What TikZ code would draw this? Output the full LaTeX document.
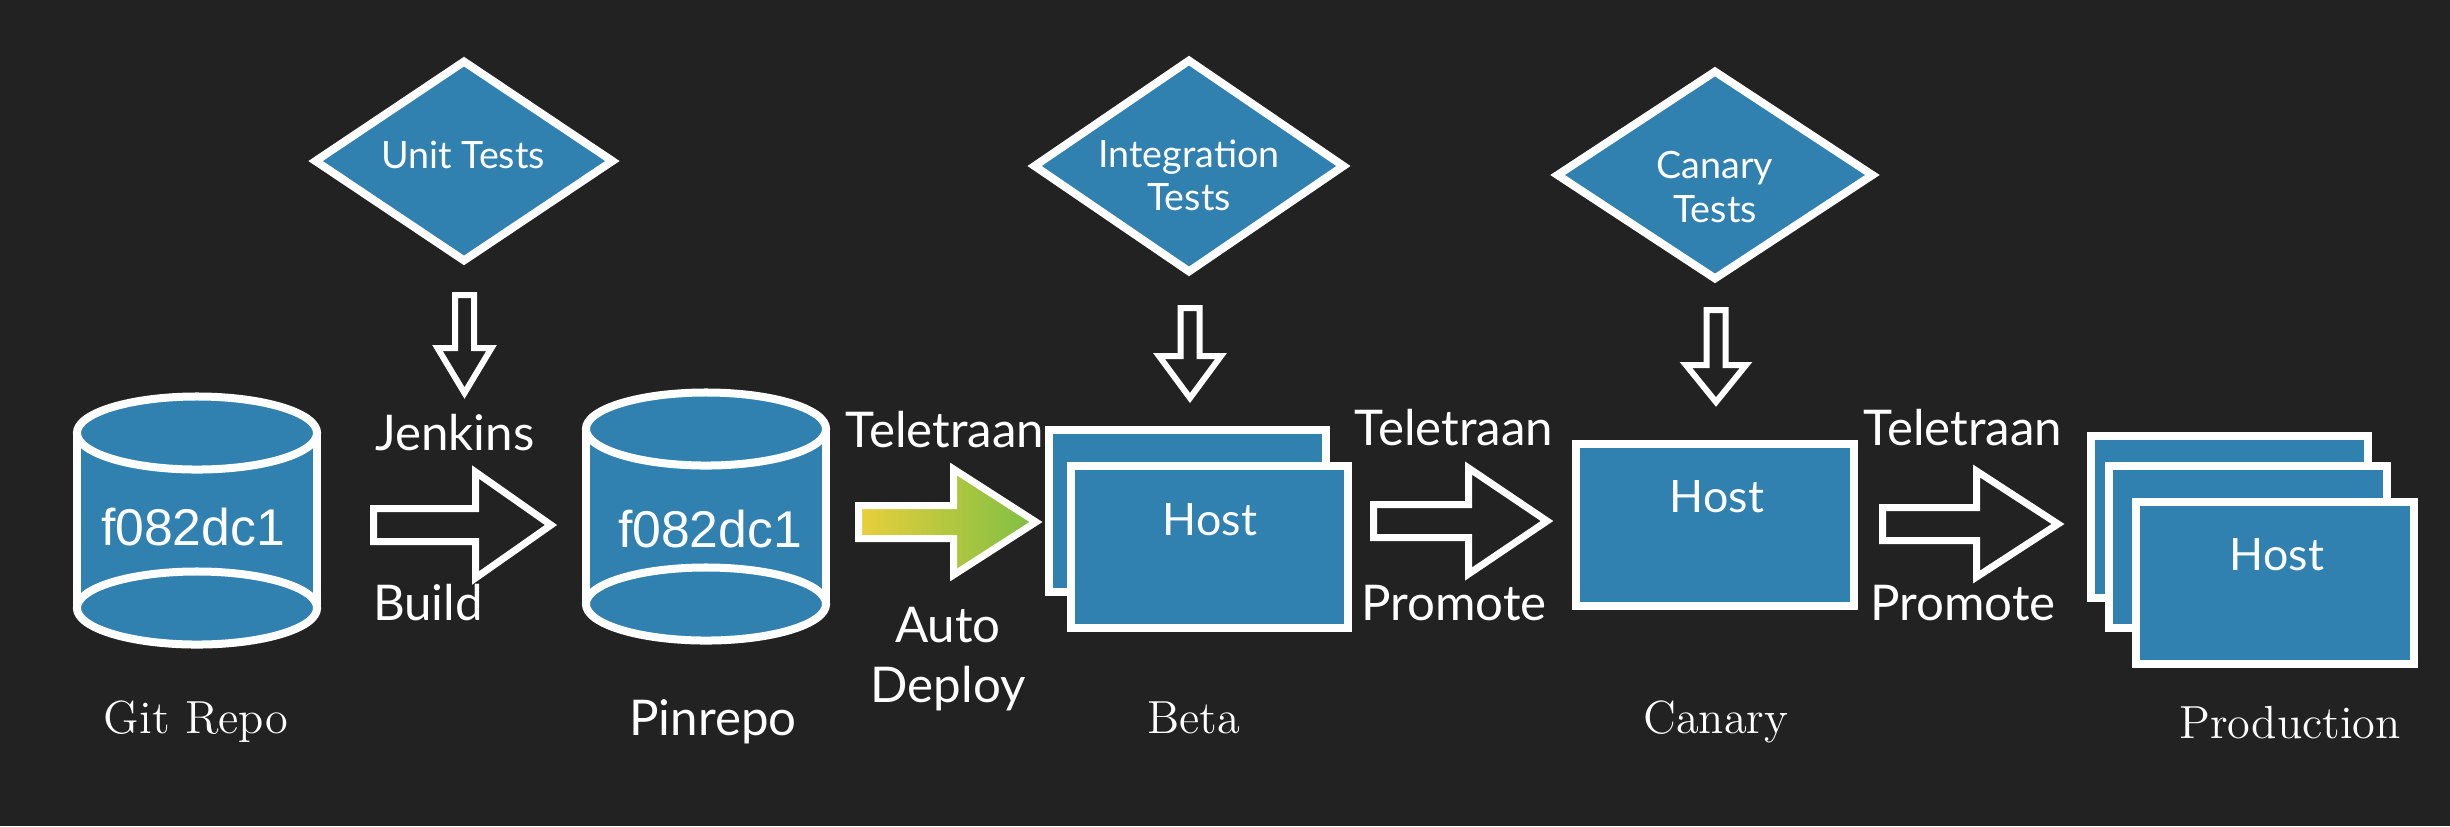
\documentclass[tikz,border=0pt]{standalone}
\usepackage{fontspec}
\newfontfamily\gill{Lato}
\newfontfamily\arial{Liberation Sans}
\usetikzlibrary{shapes.geometric,calc}
\definecolor{bgc}{HTML}{222222}
\definecolor{boxblue}{RGB}{48,128,176}
\definecolor{gy}{HTML}{E9CF3C}
\definecolor{gg}{HTML}{7DBF43}
\tikzset{
  every node/.style={text=white, inner sep=0pt},
  lbl/.style={font=\gill\fontsize{14}{17}\selectfont, anchor=base},
  stage/.style={font=\fontsize{13.2}{15}\selectfont, anchor=base},
  hosttxt/.style={font=\gill\fontsize{12.7}{15}\selectfont, anchor=base},
  testtxt/.style={font=\gill\fontsize{10.7}{12.5}\selectfont, anchor=base},
  hashtxt/.style={font=\arial\fontsize{14.7}{17}\selectfont, anchor=base},
  hostbox/.style={rectangle, draw=white, fill=boxblue, line width=0.08cm,
    minimum width=2.77cm, minimum height=1.62cm},
  testbox/.style={diamond, draw=white, fill=boxblue, line width=0.08cm},
  blk/.style={draw=white, line width=0.07cm, fill=bgc, line join=miter},
  gblk/.style={draw=white, line width=0.07cm, left color=gy, right color=gg, line join=miter},
  dblk/.style={draw=white, line width=0.06cm, fill=bgc, line join=miter},
  cylline/.style={draw=white, line width=0.08cm},
}
% block arrow: style, x left, x head base, x tip, y centre
\newcommand\blkarrow[5][blk]{%
  \draw[#1] (#2,#5-16.5) -- (#3,#5-16.5) -- (#3,#5-53) -- (#4,#5)
    -- (#3,#5+53) -- (#3,#5+16.5) -- (#2,#5+16.5) -- cycle;}
% down arrow: x centre, y top, y head, y tip, shaft half, head half
\newcommand\dnarrow[6]{%
  \draw[dblk] (#1-#5,#2) -- (#1+#5,#2) -- (#1+#5,#3) -- (#1+#6,#3)
    -- (#1,#4) -- (#1-#6,#3) -- (#1-#5,#3) -- cycle;}
% cylinder: x centre, y top, y bottom
\newcommand\cylshape[3]{%
  \fill[boxblue] (#1-120,#2) rectangle (#1+120,#3);
  \fill[boxblue] (#1,#2) ellipse [x radius=1.2cm, y radius=0.365cm];
  \fill[boxblue] (#1,#3) ellipse [x radius=1.2cm, y radius=0.365cm];
  \draw[cylline] (#1-120,#2) -- (#1-120,#3) (#1+120,#2) -- (#1+120,#3);
  \draw[cylline] (#1,#2) ellipse [x radius=1.2cm, y radius=0.365cm];
  \draw[cylline] (#1,#3) ellipse [x radius=1.2cm, y radius=0.365cm];}
\begin{document}
\begin{tikzpicture}[x=0.01cm, y=-0.01cm]
\fill[bgc] (0,0) rectangle (2450,826);
\useasboundingbox (0,0) rectangle (2450,826);

% test diamonds
\node[testbox, minimum width=3.0cm, minimum height=2.02cm] (unit) at (464,161) {};
\node[testtxt] (unitt) at (463,168) {Unit Tests};
\node[testbox, minimum width=3.12cm, minimum height=2.14cm] (integ) at (1189,166) {};
\node[testtxt] (integt1) at (1189,167) {Integration};
\node[testtxt] (integt2) at (1189,210) {Tests};
\node[testbox, minimum width=3.18cm, minimum height=2.10cm] (cant) at (1715,175) {};
\node[testtxt] (cant1) at (1715,178) {Canary};
\node[testtxt] (cant2) at (1715,222) {Tests};

% down arrows
\dnarrow{464.5}{295}{348}{393}{9.5}{27}
\dnarrow{1190}{308}{356}{398}{9.5}{31}
\dnarrow{1716}{310}{365}{402}{9.5}{30}

% repositories
\cylshape{197}{433}{608}
\node[hashtxt] (githash) at (193,545) {f082dc1};
\cylshape{706}{429}{604}
\node[hashtxt] (pinhash) at (710,547) {f082dc1};

% hosts
\node[hostbox] (bback) at (1187.5,511) {};
\node[hostbox] (bfront) at (1209.5,547) {};
\node[hosttxt] (bhost) at (1210,535) {Host};
\node[hostbox] (can) at (1715,525) {};
\node[hosttxt] (chost) at (1717,512) {Host};
\node[hostbox] (pback) at (2229.5,517) {};
\node[hostbox] (pmid) at (2248,547) {};
\node[hostbox] (pfront) at (2275,583) {};
\node[hosttxt] (phost) at (2277,570) {Host};

% block arrows
\blkarrow{373.5}{475.5}{551}{525}
\blkarrow[gblk]{858.5}{953.5}{1036}{522}
\blkarrow{1373.5}{1468.5}{1547}{521}
\blkarrow{1882.5}{1976.5}{2058}{524}

% arrow labels
\node[lbl] (jenkins) at (455,450) {Jenkins};
\node[lbl] (build) at (428,620) {Build};
\node[lbl] (tel1) at (945,447) {Teletraan};
\node[lbl] (auto) at (948,642) {Auto};
\node[lbl] (deploy) at (948,702) {Deploy};
\node[lbl] (tel2) at (1454,445) {Teletraan};
\node[lbl] (prom1) at (1454,620) {Promote};
\node[lbl] (tel3) at (1963,445) {Teletraan};
\node[lbl] (prom2) at (1963,620) {Promote};

% stage labels
\node[stage] (gitlbl) at (196,733) {Git Repo};
\node[lbl] (pinlbl) at (713,735) {Pinrepo};
\node[stage] (betalbl) at (1194,733) {Beta};
\node[stage] (canlbl) at (1716,733) {Canary};
\node[stage] (prodlbl) at (2290,738) {Production};
\end{tikzpicture}
\end{document}
